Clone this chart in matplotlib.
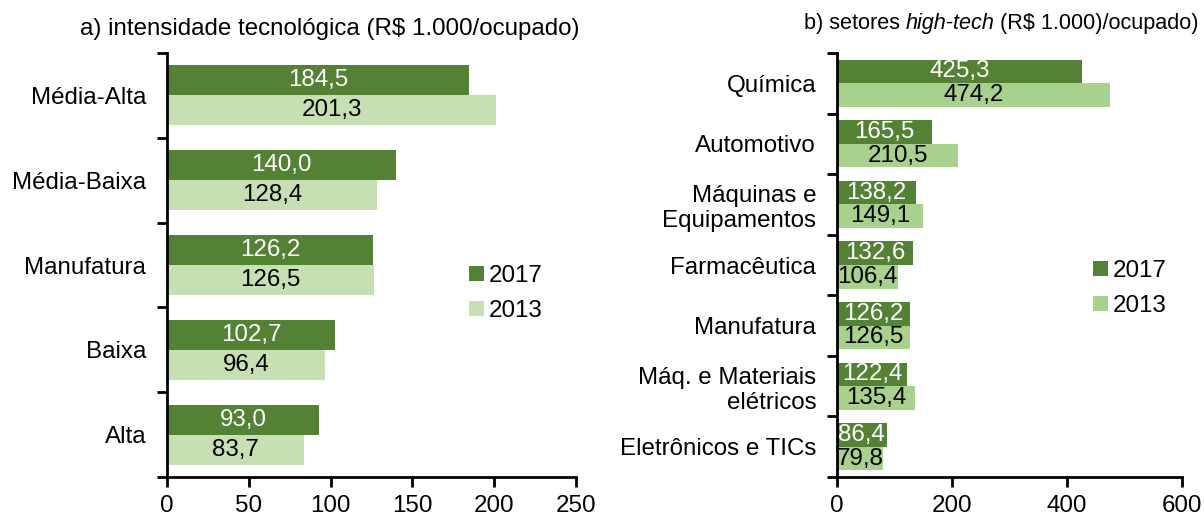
import numpy as np
import matplotlib
matplotlib.use("Agg")
import matplotlib.pyplot as plt

plt.rcParams["font.family"] = ["Liberation Sans", "DejaVu Sans"]

# a) intensidade tecnológica
cats_a = ["Média-Alta", "Média-Baixa", "Manufatura", "Baixa", "Alta"]
a_2017 = [184.5, 140.0, 126.2, 102.7, 93.0]
a_2013 = [201.3, 128.4, 126.5, 96.4, 83.7]

# b) setores high-tech
cats_b = ["Química", "Automotivo", "Máquinas e\nEquipamentos", "Farmacêutica",
          "Manufatura", "Máq. e Materiais\nelétricos", "Eletrônicos e TICs"]
b_2017 = [425.3, 165.5, 138.2, 132.6, 126.2, 122.4, 86.4]
b_2013 = [474.2, 210.5, 149.1, 106.4, 126.5, 135.4, 79.8]

DARK = "#548235"
LIGHT_A = "#c6e0b4"
LIGHT_B = "#a9d18e"
FS = 17.4
FS_TB = 15.6   # title b is set a bit smaller
W, H = 1204, 518


def fmt(v):
    return f"{v:.1f}".replace(".", ",")


def draw(ax, cats, v17, v13, light, hw, xmax, xstep):
    n = len(cats)
    y = np.arange(n)[::-1].astype(float)
    b1 = ax.barh(y + hw / 2, v17, height=hw, color=DARK, label="2017")
    b2 = ax.barh(y - hw / 2, v13, height=hw, color=light, label="2013")
    for bars, vals, col in ((b1, v17, "white"), (b2, v13, "black")):
        for bar, v in zip(bars, vals):
            ax.text(bar.get_width() / 2, bar.get_y() + bar.get_height() / 2, fmt(v),
                    ha="center", va="center", color=col, fontsize=FS)
    ax.set_ylim(-0.5, n - 0.5)
    ax.set_xlim(0, xmax)
    ax.set_xticks(np.arange(0, xmax + 1, xstep))
    ax.set_yticks(np.arange(n + 1) - 0.5)
    ax.set_yticklabels([])
    ax.set_yticks(y, minor=True)
    ax.set_yticklabels(cats, minor=True, fontsize=FS)
    ax.tick_params(axis="y", which="minor", length=0, pad=15)
    ax.tick_params(axis="y", which="major", length=7, width=2, direction="out")
    ax.tick_params(axis="x", length=7, width=2, direction="out", labelsize=FS, pad=6)
    for s in ("top", "right"):
        ax.spines[s].set_visible(False)
    for s in ("left", "bottom"):
        ax.spines[s].set_linewidth(2)


def legend(ax, x, y):
    ax.legend(loc="upper left", bbox_to_anchor=(x / W, 1 - y / H),
              bbox_transform=fig.transFigure, frameon=False, fontsize=FS,
              borderpad=0, borderaxespad=0, handlelength=0.6, handleheight=0.6,
              handletextpad=0.2, labelspacing=0.55)


def rich_title(x_right, y, parts, size):
    # mixed normal / italic pieces, laid out left to right, right edge at x_right
    r = fig.canvas.get_renderer()
    texts = [fig.text(0, 1 - y / H, txt, fontsize=size, style=style,
                      ha="left", va="center") for txt, style in parts]
    widths = [t.get_window_extent(r).width for t in texts]
    x = x_right - sum(widths)
    for t, w in zip(texts, widths):
        t.set_x(x / W)
        x += w


fig = plt.figure(figsize=(W / 100, H / 100), dpi=100)
ax1 = fig.add_axes([167 / W, 41 / H, (576 - 167) / W, (477 - 53) / H])
ax2 = fig.add_axes([837 / W, 41 / H, (1182 - 837) / W, (477 - 53) / H])

draw(ax1, cats_a, a_2017, a_2013, LIGHT_A, 0.353, 250, 50)
draw(ax2, cats_b, b_2017, b_2013, LIGHT_B, 0.39, 600, 200)

fig.text(330 / W, 1 - 29 / H, "a) intensidade tecnológica (R$ 1.000/ocupado)",
         fontsize=FS, ha="center", va="center")
rich_title(1199, 23, [("b) setores ", "normal"), ("high-tech", "italic"),
                      (" (R$ 1.000)/ocupado)", "normal")], FS_TB)

legend(ax1, 469, 265)
legend(ax2, 1093, 260)

fig.savefig("out.png", dpi=100)
